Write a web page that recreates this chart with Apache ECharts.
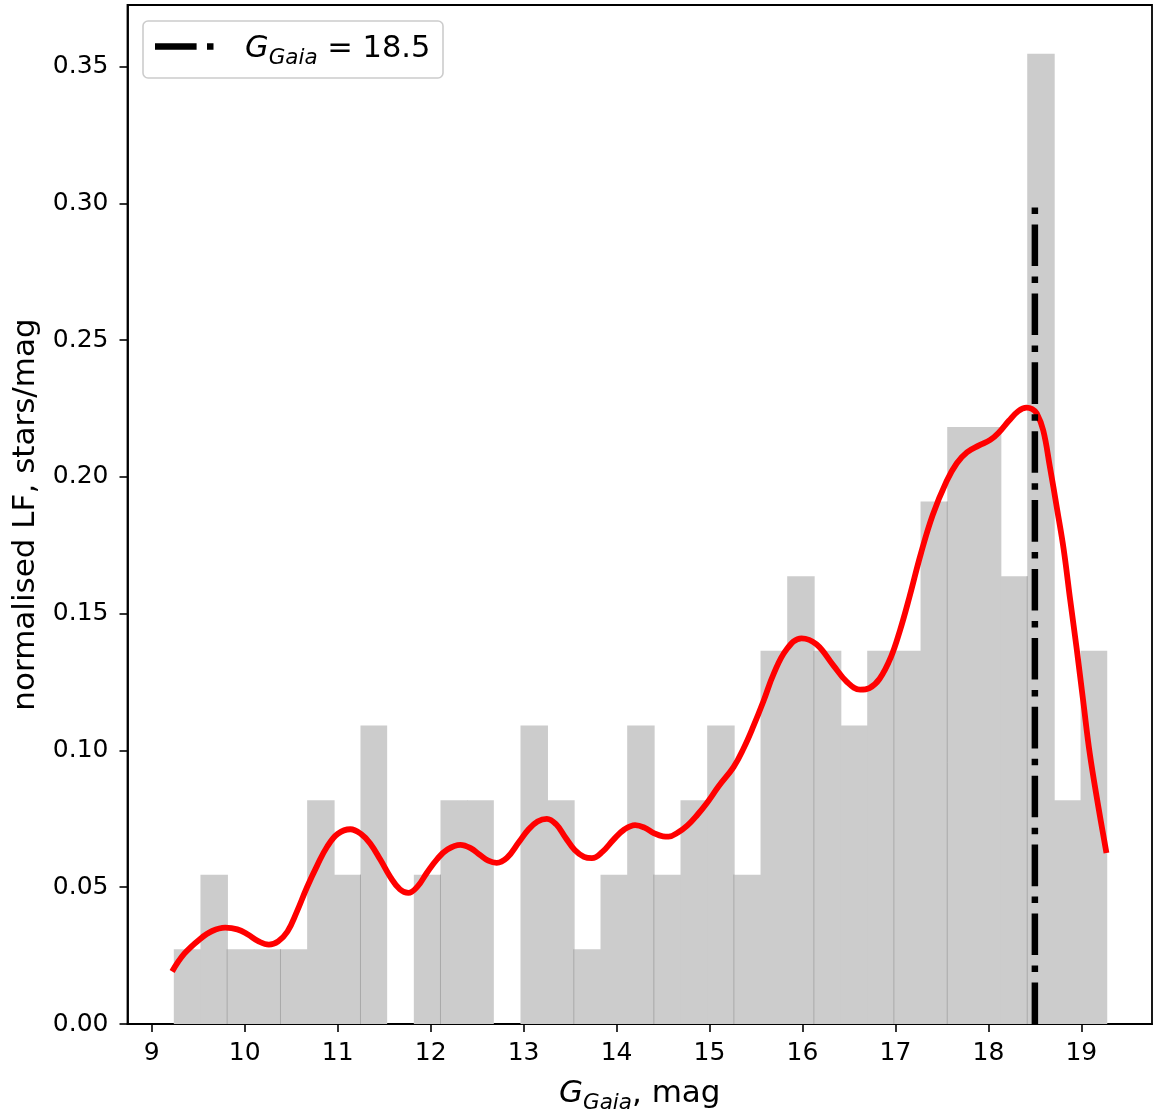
<!DOCTYPE html>
<html>
<head>
<meta charset="utf-8">
<title>Luminosity function</title>
<script src="https://cdn.jsdelivr.net/npm/echarts@6/dist/echarts.min.js"></script>
<style>
  html, body { margin: 0; padding: 0; background: #ffffff; }
  #chart { width: 1155px; height: 1110px; }
</style>
</head>
<body>
<div id="chart"></div>
<script>
// Histogram of the normalised luminosity function (stars/mag)
const binStart = 9.237;
const binWidth = 0.2869;
const lfHeights = [
  0.0273, 0.0546, 0.0273, 0.0273, 0.0273, 0.0818, 0.0546, 0.1091, 0.0,
  0.0546, 0.0818, 0.0818, 0.0, 0.1091, 0.0818, 0.0273, 0.0546, 0.1091,
  0.0546, 0.0818, 0.1091, 0.0546, 0.1364, 0.1637, 0.1364, 0.1091, 0.1364,
  0.1364, 0.1910, 0.2182, 0.2182, 0.1637, 0.3547, 0.0818, 0.1364
];
// bin boundaries that show a faint seam between neighbouring bars
const seamEdges = [2, 4, 7, 10, 15, 18, 21, 24, 27, 29, 32];

// Smoothed (KDE) luminosity function
const kdeMag = [
  9.219, 9.35, 9.524, 9.65, 9.79, 9.92, 10.03, 10.15, 10.26, 10.36, 10.46,
  10.56, 10.67, 10.78, 10.886, 11.0, 11.137, 11.25, 11.35, 11.46, 11.567,
  11.67, 11.76, 11.86, 11.96, 12.07, 12.18, 12.32, 12.43, 12.53, 12.62,
  12.71, 12.82, 12.95, 13.05, 13.15, 13.25, 13.35, 13.45, 13.55, 13.65,
  13.735, 13.85, 13.97, 14.08, 14.20, 14.30, 14.40, 14.50, 14.56, 14.66,
  14.76, 14.87, 14.97, 15.10, 15.26, 15.37, 15.47, 15.58, 15.69, 15.83,
  15.99, 16.15, 16.33, 16.48, 16.62, 16.72, 16.83, 16.95, 17.05, 17.15,
  17.27, 17.40, 17.55, 17.66, 17.77, 17.90, 18.02, 18.12, 18.22, 18.32,
  18.41, 18.47, 18.52, 18.59, 18.66, 18.74, 18.81, 18.88, 18.95, 19.02,
  19.09, 19.18, 19.27
];
const kdeLF = [
  0.0192, 0.0257, 0.0312, 0.0340, 0.0352, 0.0346, 0.0328, 0.0302, 0.0290, 0.0302, 0.0338,
  0.0410, 0.0500, 0.0580, 0.0648, 0.0695, 0.0712, 0.0695, 0.0660, 0.0600, 0.0537,
  0.0492, 0.0479, 0.0503, 0.0553, 0.0603, 0.0638, 0.0655, 0.0643, 0.0618, 0.0597,
  0.0589, 0.0607, 0.0665, 0.0710, 0.0740, 0.0750, 0.0730, 0.0682, 0.0636, 0.0611,
  0.0606, 0.0630, 0.0675, 0.0710, 0.0727, 0.0718, 0.0698, 0.0686, 0.0685, 0.0700,
  0.0725, 0.0765, 0.0807, 0.0870, 0.0940, 0.1010, 0.1087, 0.1180, 0.1280, 0.1370,
  0.1410, 0.1388, 0.1312, 0.1250, 0.1222, 0.1228, 0.1262, 0.1340, 0.1440, 0.1560,
  0.1715, 0.1860, 0.1984, 0.2050, 0.2090, 0.2115, 0.2135, 0.2165, 0.2205, 0.2240,
  0.2253, 0.2248, 0.2232, 0.2170, 0.2040, 0.1880, 0.1735, 0.1550, 0.1371, 0.1180,
  0.0990, 0.0800, 0.0625
];

// Magnitude limit marker
const cutMag = 18.5;
const cutLF = [0.0, 0.30];

const xTicks = [9, 10, 11, 12, 13, 14, 15, 16, 17, 18, 19];
const yTicks = [0.00, 0.05, 0.10, 0.15, 0.20, 0.25, 0.30, 0.35];

const FONT = 'DejaVu Sans';
const dashDot = [41.6, 10.4, 6.5, 10.4];

const histData = lfHeights.map((h, i) => [
  binStart + i * binWidth,
  binStart + (i + 1) * binWidth,
  h,
  seamEdges.indexOf(i) >= 0 ? Math.min(h, lfHeights[i - 1]) : 0,
  i + 1 < lfHeights.length && lfHeights[i + 1] > 0 ? 1 : 0
]);

const chart = echarts.init(document.getElementById('chart'), null, { renderer: 'canvas' });

const titleRich = {
  i: { fontFamily: FONT, fontStyle: 'italic', fontSize: 31, lineHeight: 40, color: '#000' },
  s: { fontFamily: FONT, fontStyle: 'italic', fontSize: 21.5, lineHeight: 21, verticalAlign: 'bottom', color: '#000' },
  n: { fontFamily: FONT, fontSize: 31, lineHeight: 40, color: '#000' }
};

chart.setOption({
  animation: false,
  backgroundColor: '#ffffff',
  grid: {
    left: 127.5, right: 3, top: 5, bottom: 86,
    outerBoundsMode: 'none',
    containLabel: false,
    show: true, borderColor: '#000', borderWidth: 1.8, backgroundColor: 'transparent'
  },
  xAxis: {
    type: 'value',
    min: 8.739, max: 19.76,
    name: '{i|G}{s|Gaia}{n|, mag}',
    nameLocation: 'middle',
    nameGap: 50,
    nameTextStyle: { rich: titleRich },
    axisLine: { show: true, onZero: false, lineStyle: { color: '#000', width: 1.8 } },
    axisTick: { show: true, length: 8, lineStyle: { color: '#000', width: 1.6 }, customValues: xTicks },
    axisLabel: {
      customValues: xTicks, margin: 17,
      fontFamily: FONT, fontSize: 25, color: '#000',
      formatter: v => String(v)
    },
    splitLine: { show: false }
  },
  yAxis: {
    type: 'value',
    min: 0, max: 0.3725,
    name: 'normalised LF, stars/mag',
    nameLocation: 'middle',
    nameRotate: 90,
    nameGap: 84,
    nameTextStyle: { fontFamily: FONT, fontSize: 31, color: '#000' },
    axisLine: { show: true, lineStyle: { color: '#000', width: 1.8 } },
    axisTick: { show: true, length: 8, lineStyle: { color: '#000', width: 1.6 }, customValues: yTicks },
    axisLabel: {
      customValues: yTicks, margin: 19,
      fontFamily: FONT, fontSize: 25, color: '#000',
      formatter: v => v.toFixed(2)
    },
    splitLine: { show: false }
  },
  series: [
    {
      type: 'custom',
      name: 'histogram',
      z: 1,
      encode: { x: [0, 1], y: 2 },
      data: histData,
      renderItem: function (params, api) {
        const x0 = api.value(0), x1 = api.value(1), h = api.value(2);
        const seam = api.value(3), joined = api.value(4);
        const base = api.coord([x0, 0]);
        const top = api.coord([x1, h]);
        // overlap into the next bar so neighbouring bars join without a gap
        const extra = joined ? 0.8 : 0;
        const children = [];
        if (h > 0) {
          children.push({
            type: 'rect',
            shape: { x: base[0], y: top[1], width: top[0] - base[0] + extra, height: base[1] - top[1] },
            style: { fill: '#cccccc' }
          });
        }
        if (seam > 0) {
          const st = api.coord([x0, seam]);
          children.push({
            type: 'line',
            z2: 5,
            shape: { x1: base[0], y1: base[1], x2: base[0], y2: st[1] },
            style: { stroke: '#a9a9a9', lineWidth: 1 }
          });
        }
        return { type: 'group', children: children };
      }
    },
    {
      type: 'line',
      name: 'KDE',
      z: 3,
      data: kdeMag.map((m, i) => [m, kdeLF[i]]),
      showSymbol: false,
      smooth: 0.4,
      lineStyle: { color: '#ff0000', width: 5.8, cap: 'butt', join: 'round' }
    },
    {
      type: 'line',
      name: 'limit',
      z: 4,
      data: cutLF.map(v => [cutMag, v]),
      showSymbol: false,
      lineStyle: { color: '#000', width: 6.5, type: dashDot, cap: 'butt' }
    }
  ],
  graphic: [
    {
      type: 'group',
      z: 100,
      children: [
        {
          type: 'rect',
          shape: { x: 143, y: 21, width: 300, height: 57, r: 5 },
          style: { fill: 'rgba(255,255,255,0.85)', stroke: '#cccccc', lineWidth: 1.6 }
        },
        {
          type: 'line',
          shape: { x1: 155, y1: 46.5, x2: 216, y2: 46.5 },
          style: { stroke: '#000', lineWidth: 6.5, lineDash: dashDot, lineCap: 'butt' }
        },
        {
          type: 'text',
          x: 245, y: 49.5,
          style: {
            text: '{i|G}{s|Gaia}{n| = ' + cutMag.toFixed(1) + '}',
            rich: {
              i: { fontFamily: FONT, fontStyle: 'italic', fontSize: 30.5, lineHeight: 40, fill: '#000' },
              s: { fontFamily: FONT, fontStyle: 'italic', fontSize: 21.5, lineHeight: 21, verticalAlign: 'bottom', fill: '#000' },
              n: { fontFamily: FONT, fontSize: 30.5, lineHeight: 40, fill: '#000' }
            },
            verticalAlign: 'middle',
            align: 'left'
          }
        }
      ]
    }
  ]
});
</script>
</body>
</html>
